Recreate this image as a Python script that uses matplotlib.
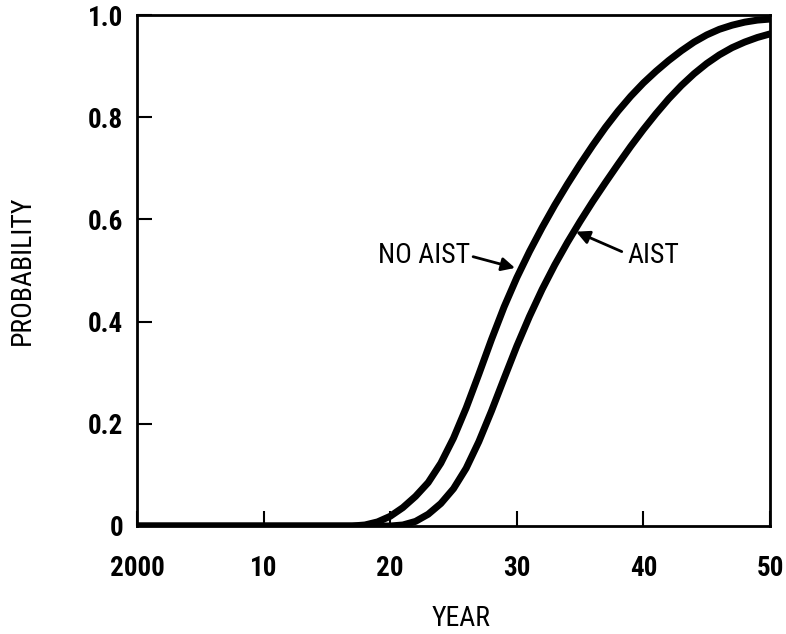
import matplotlib
matplotlib.use("Agg")
import matplotlib.pyplot as plt

# Probabilidad acumulada por año (años después de 2000)
years_no_aist = [0, 17, 18, 19, 20, 21, 22, 23, 24, 25, 26, 27, 28, 29, 30,
                 31, 32, 33, 34, 35, 36, 37, 38, 39, 40, 41, 42, 43, 44, 45,
                 46, 47, 48, 49, 50]
prob_no_aist = [0.0, 0.0, 0.002, 0.008, 0.019, 0.036, 0.058, 0.085, 0.123,
                0.172, 0.231, 0.297, 0.365, 0.429, 0.486, 0.537, 0.584, 0.628,
                0.669, 0.708, 0.745, 0.780, 0.812, 0.841, 0.867, 0.890, 0.911,
                0.930, 0.947, 0.961, 0.972, 0.980, 0.986, 0.990, 0.992]

years_aist = [0, 20, 21, 22, 23, 24, 25, 26, 27, 28, 29, 30, 31, 32, 33, 34,
              35, 36, 37, 38, 39, 40, 41, 42, 43, 44, 45, 46, 47, 48, 49, 50]
prob_aist = [0.0, 0.0, 0.002, 0.009, 0.023, 0.044, 0.073, 0.113, 0.165, 0.225,
             0.289, 0.352, 0.410, 0.463, 0.511, 0.555, 0.596, 0.635, 0.672,
             0.708, 0.743, 0.776, 0.807, 0.836, 0.862, 0.885, 0.905, 0.922,
             0.936, 0.947, 0.956, 0.963]

x_ticks = [0, 10, 20, 30, 40, 50]
x_labels = ['2000', '10', '20', '30', '40', '50']
y_ticks = [0, 0.2, 0.4, 0.6, 0.8, 1.0]
y_labels = ['0', '0.2', '0.4', '0.6', '0.8', '1.0']

fuente = ['Liberation Sans Narrow', 'Roboto Condensed', 'Open Sans Condensed',
          'DejaVu Sans']
plt.rcParams['font.family'] = fuente
plt.rcParams['font.stretch'] = 'condensed'

fig = plt.figure(figsize=(7.86, 6.34), dpi=100)
ax = fig.add_axes([137 / 786, 108 / 634, 633 / 786, 511 / 634])

ax.plot(years_no_aist, prob_no_aist, color='black', lw=5,
        solid_joinstyle='round')
ax.plot(years_aist, prob_aist, color='black', lw=5,
        solid_joinstyle='round')

ax.set_xlim(0, 50)
ax.set_ylim(0, 1.0)

ax.set_xticks(x_ticks)
ax.set_xticklabels(x_labels, fontsize=19.5, fontweight='bold')
ax.set_yticks(y_ticks)
ax.set_yticklabels(y_labels, fontsize=19.5, fontweight='bold')
ax.tick_params(axis='x', direction='in', length=11, width=1.5, pad=21)
ax.tick_params(axis='y', direction='in', length=11, width=1.5, pad=10)

for spine in ax.spines.values():
    spine.set_linewidth(2)

ax.set_xlabel('YEAR', fontsize=20)
ax.xaxis.set_label_coords(0.512, -0.155)
ax.set_ylabel('PROBABILITY', fontsize=20)
ax.yaxis.set_label_coords(-0.16, 0.5)

# Flechas y etiquetas de las curvas
flecha = dict(arrowstyle='-|>', color='black', lw=2, mutation_scale=20,
              shrinkA=0, shrinkB=0)
ax.annotate('', xy=(29.86, 0.505), xytext=(26.55, 0.527), arrowprops=flecha)
ax.text(26.3, 0.530, 'NO AIST', fontsize=20, ha='right', va='center')
ax.annotate('', xy=(34.68, 0.576), xytext=(38.29, 0.537), arrowprops=flecha)
ax.text(38.7, 0.530, 'AIST', fontsize=20, ha='left', va='center')

fig.savefig('out.png', dpi=100)
